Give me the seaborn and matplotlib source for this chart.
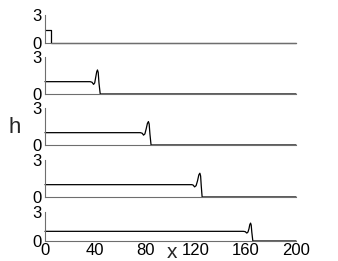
import matplotlib
matplotlib.use("Agg")
import matplotlib.pyplot as plt
import seaborn as sns
import numpy as np

sns.set_style("white")
plt.rcParams['font.family'] = ['Liberation Sans', 'DejaVu Sans']

# data: water depth h(x) at five times
x_t0 = [0, 5, 5, 200]
h_t0 = [1.35, 1.35, 0, 0]
x_t1 = [0, 36, 37.5, 38.7, 39.6, 40.4, 41.2, 41.8, 42.4, 43.0, 44.0, 200]
h_t1 = [1, 1, 0.95, 0.78, 0.9, 1.35, 1.8, 1.95, 1.75, 0.9, 0, 0]
x_t2 = [0, 76, 77.5, 78.5, 79.6, 80.6, 81.6, 82.4, 83.0, 83.6, 84.5, 200]
h_t2 = [1, 1, 0.95, 0.8, 0.9, 1.3, 1.75, 1.9, 1.7, 0.9, 0, 0]
x_t3 = [0, 117, 118, 119.2, 120.4, 121.5, 122.6, 123.4, 124.0, 124.5, 125.2, 200]
h_t3 = [1, 1, 0.97, 0.82, 0.92, 1.3, 1.8, 1.93, 1.7, 0.9, 0, 0]
x_t4 = [0, 158, 159.5, 160.8, 161.7, 162.5, 163.2, 163.8, 164.3, 164.8, 165.6, 200]
h_t4 = [1, 1, 0.97, 0.82, 0.92, 1.25, 1.7, 1.85, 1.65, 0.9, 0, 0]

xs = [x_t0, x_t1, x_t2, x_t3, x_t4]
hs = [h_t0, h_t1, h_t2, h_t3, h_t4]
xticks = [0, 40, 80, 120, 160, 200]
yticks = [0, 3]

W, H = 338, 261
fig = plt.figure(figsize=(W / 100, H / 100), dpi=100)
# (top_px, bottom_px) of each panel
panels = [(15, 43), (57, 94), (108, 145), (160, 197), (212, 241)]
left, right = 45, 296
spc = '#6e6e6e'
for i, ((tp, bp), xv, hv) in enumerate(zip(panels, xs, hs)):
    ax = fig.add_axes([left / W, 1 - bp / H, (right - left) / W, (bp - tp) / H])
    sns.lineplot(x=xv, y=hv, ax=ax, color='black', lw=0.9, sort=False,
                 estimator=None, clip_on=False)
    ax.set_xlim(0, 200)
    ax.set_ylim(0, 3)
    ax.set_xticks(xticks)
    ax.set_yticks(yticks)
    for s in ['top', 'right']:
        ax.spines[s].set_visible(False)
    for s in ['left', 'bottom']:
        ax.spines[s].set_color(spc)
        ax.spines[s].set_linewidth(0.8)
    ax.tick_params(direction='in', length=2.5, width=0.8, color=spc,
                   labelsize=12, labelcolor='black')
    ax.tick_params(axis='y', pad=2.5)
    ax.tick_params(axis='x', pad=1.5)
    if i < 4:
        ax.tick_params(labelbottom=False)
    ax.set_facecolor('none')

fig.text(15 / W, 1 - 128 / H, 'h', fontsize=16, ha='center', va='center')
fig.text(172 / W, 1 - 252 / H, 'x', fontsize=15, ha='center', va='center')
fig.savefig('out.png', dpi=100, facecolor='white')
